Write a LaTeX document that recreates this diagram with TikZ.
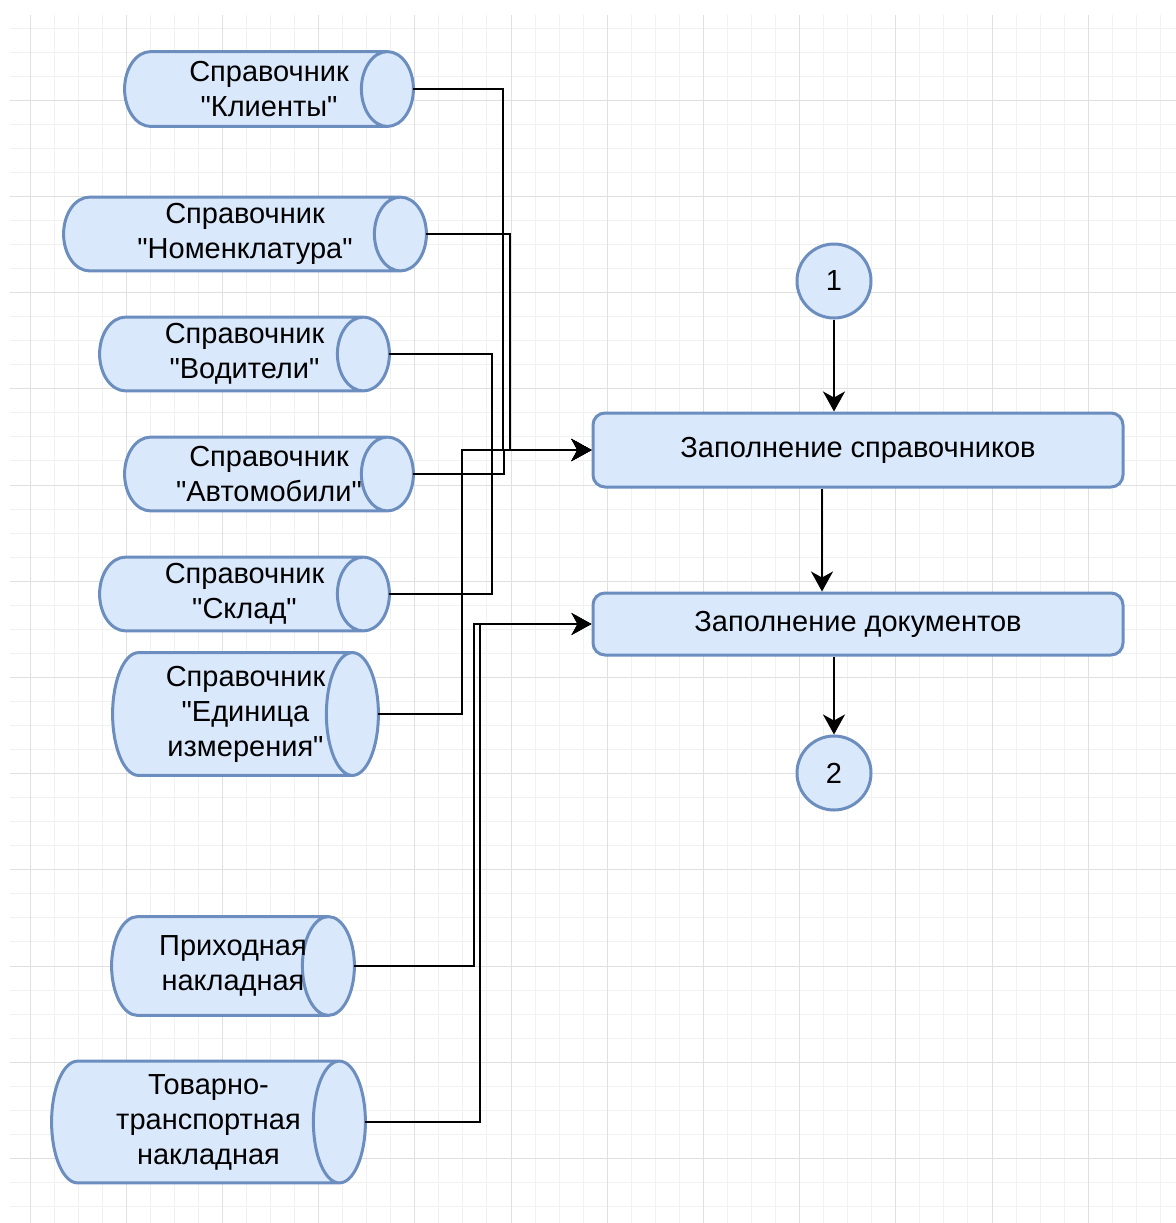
\documentclass[tikz,border=0pt]{standalone}
\usepackage{fontspec}
\setmainfont{Liberation Sans}[Ligatures=TeXOff]
\usetikzlibrary{arrows.meta,backgrounds,calc}

\definecolor{boxfill}{HTML}{DAE8FC}
\definecolor{boxline}{HTML}{6C8EBF}
\definecolor{gridmajor}{HTML}{E0E0E0}
\definecolor{gridminor}{HTML}{F1F1F1}

% cylinder lying on its side, drawn round a named node
\newcommand\drum[1]{%
	\path[draw=boxline, fill=boxfill, line width=1.5pt]
		let \p1=(#1.north west), \p2=(#1.south east), \n1={(\y1-\y2)/2} in
		(\x2-13pt,\y1) -- (\x1+13pt,\y1)
		arc[start angle=90, end angle=270, x radius=13pt, y radius=\n1]
		-- (\x2-13pt,\y2)
		arc[start angle=-90, end angle=90, x radius=13pt, y radius=\n1] -- cycle
		(\x2-13pt,{(\y1+\y2)/2}) ellipse[x radius=13pt, y radius=\n1];}

\begin{document}
\begin{tikzpicture}[x=0.5pt,y=-0.5pt,
    txt/.style={font=\fontsize{14.5}{17.5}\selectfont, align=center},
    store/.style={rectangle, inner sep=0pt, txt},
    proc/.style={rectangle, rounded corners=6pt, draw=boxline, fill=boxfill, line width=1.5pt, minimum width=265pt, txt},
    conn/.style={circle, draw=boxline, fill=boxfill, line width=1.5pt, minimum size=37pt, inner sep=0pt, txt},
    link/.style={line width=1pt, -{Stealth[length=10pt, width=11pt, inset=3pt]}}]
				\useasboundingbox (0,0) rectangle (1176,1223);
				% grid
				\begin{scope}[on background layer]
				\fill[white] (0,0) rectangle (1176,1223);
				\foreach \k in {0,...,47}
					\draw[gridminor, line width=0.5pt] ({30+24.05*\k},15) -- ({30+24.05*\k},1223);
				\foreach \k in {1,...,50}
					\draw[gridminor, line width=0.5pt] (10,{4+24.05*\k}) -- (1176,{4+24.05*\k});
				\foreach \k in {0,...,11}
					\draw[gridmajor, line width=0.5pt] ({30+96.2*\k},15) -- ({30+96.2*\k},1223);
				\foreach \k in {1,...,12}
					\draw[gridmajor, line width=0.5pt] (10,{4+96.2*\k}) -- (1176,{4+96.2*\k});
				\end{scope}

				% directories
				\node[store, minimum width=144pt, minimum height=37pt] (kli) at (269,89) {Справочник\\"Клиенты"};
				\node[store, minimum width=181pt, minimum height=36.5pt] (nom) at (245,234) {Справочник\\"Номенклатура"};
				\node[store, minimum width=144.5pt, minimum height=36.5pt] (vod) at (244.5,354) {Справочник\\"Водители"};
				\node[store, minimum width=144pt, minimum height=36.5pt] (avt) at (269,474) {Справочник\\"Автомобили"};
				\node[store, minimum width=144.5pt, minimum height=36.5pt] (skl) at (244.5,594) {Справочник\\"Склад"};
				\node[store, minimum width=132.5pt, minimum height=61pt] (edi) at (245.5,714) {Справочник\\"Единица\\измерения"};
				% documents
				\node[store, minimum width=121pt, minimum height=49pt] (pri) at (233,966) {Приходная\\накладная};
				\node[store, minimum width=156.5pt, minimum height=60.5pt] (ttn) at (208.5,1122) {Товарно-\\транспортная\\накладная};
				\begin{scope}[on background layer]
				\foreach \nd in {kli,nom,vod,avt,skl,edi,pri,ttn}
					\drum{\nd};
				\end{scope}

				% process
				\node[conn] (c1) at (834,281) {1};
				\node[proc, minimum height=37pt] (fillref) at (858,450) {Заполнение справочников};
				\node[proc, minimum height=31pt] (filldoc) at (858,624) {Заполнение документов};
				\node[conn] (c2) at (834,773) {2};

				\draw[link] (kli.east) -- ++(90,0) |- (fillref.west);
				\draw[link] (nom.east) -- ++(84,0) |- (fillref.west);
				\draw[link] (vod.east) -- ++(103,0) |- (fillref.west);
				\draw[link] (avt.east) -- ++(91,0) |- (fillref.west);
				\draw[link] (skl.east) -- ++(103,0) |- (fillref.west);
				\draw[link] (edi.east) -- ++(84,0) |- (fillref.west);
				\draw[link] (pri.east) -- ++(120,0) |- (filldoc.west);
				\draw[link] (ttn.east) -- ++(115,0) |- (filldoc.west);

				\draw[link] (c1) -- (c1 |- fillref.north);
				\draw[link] ([xshift=-18pt]fillref.south) -- ([xshift=-18pt]filldoc.north);
				\draw[link] (c2 |- filldoc.south) -- (c2);
			\end{tikzpicture}
\end{document}
